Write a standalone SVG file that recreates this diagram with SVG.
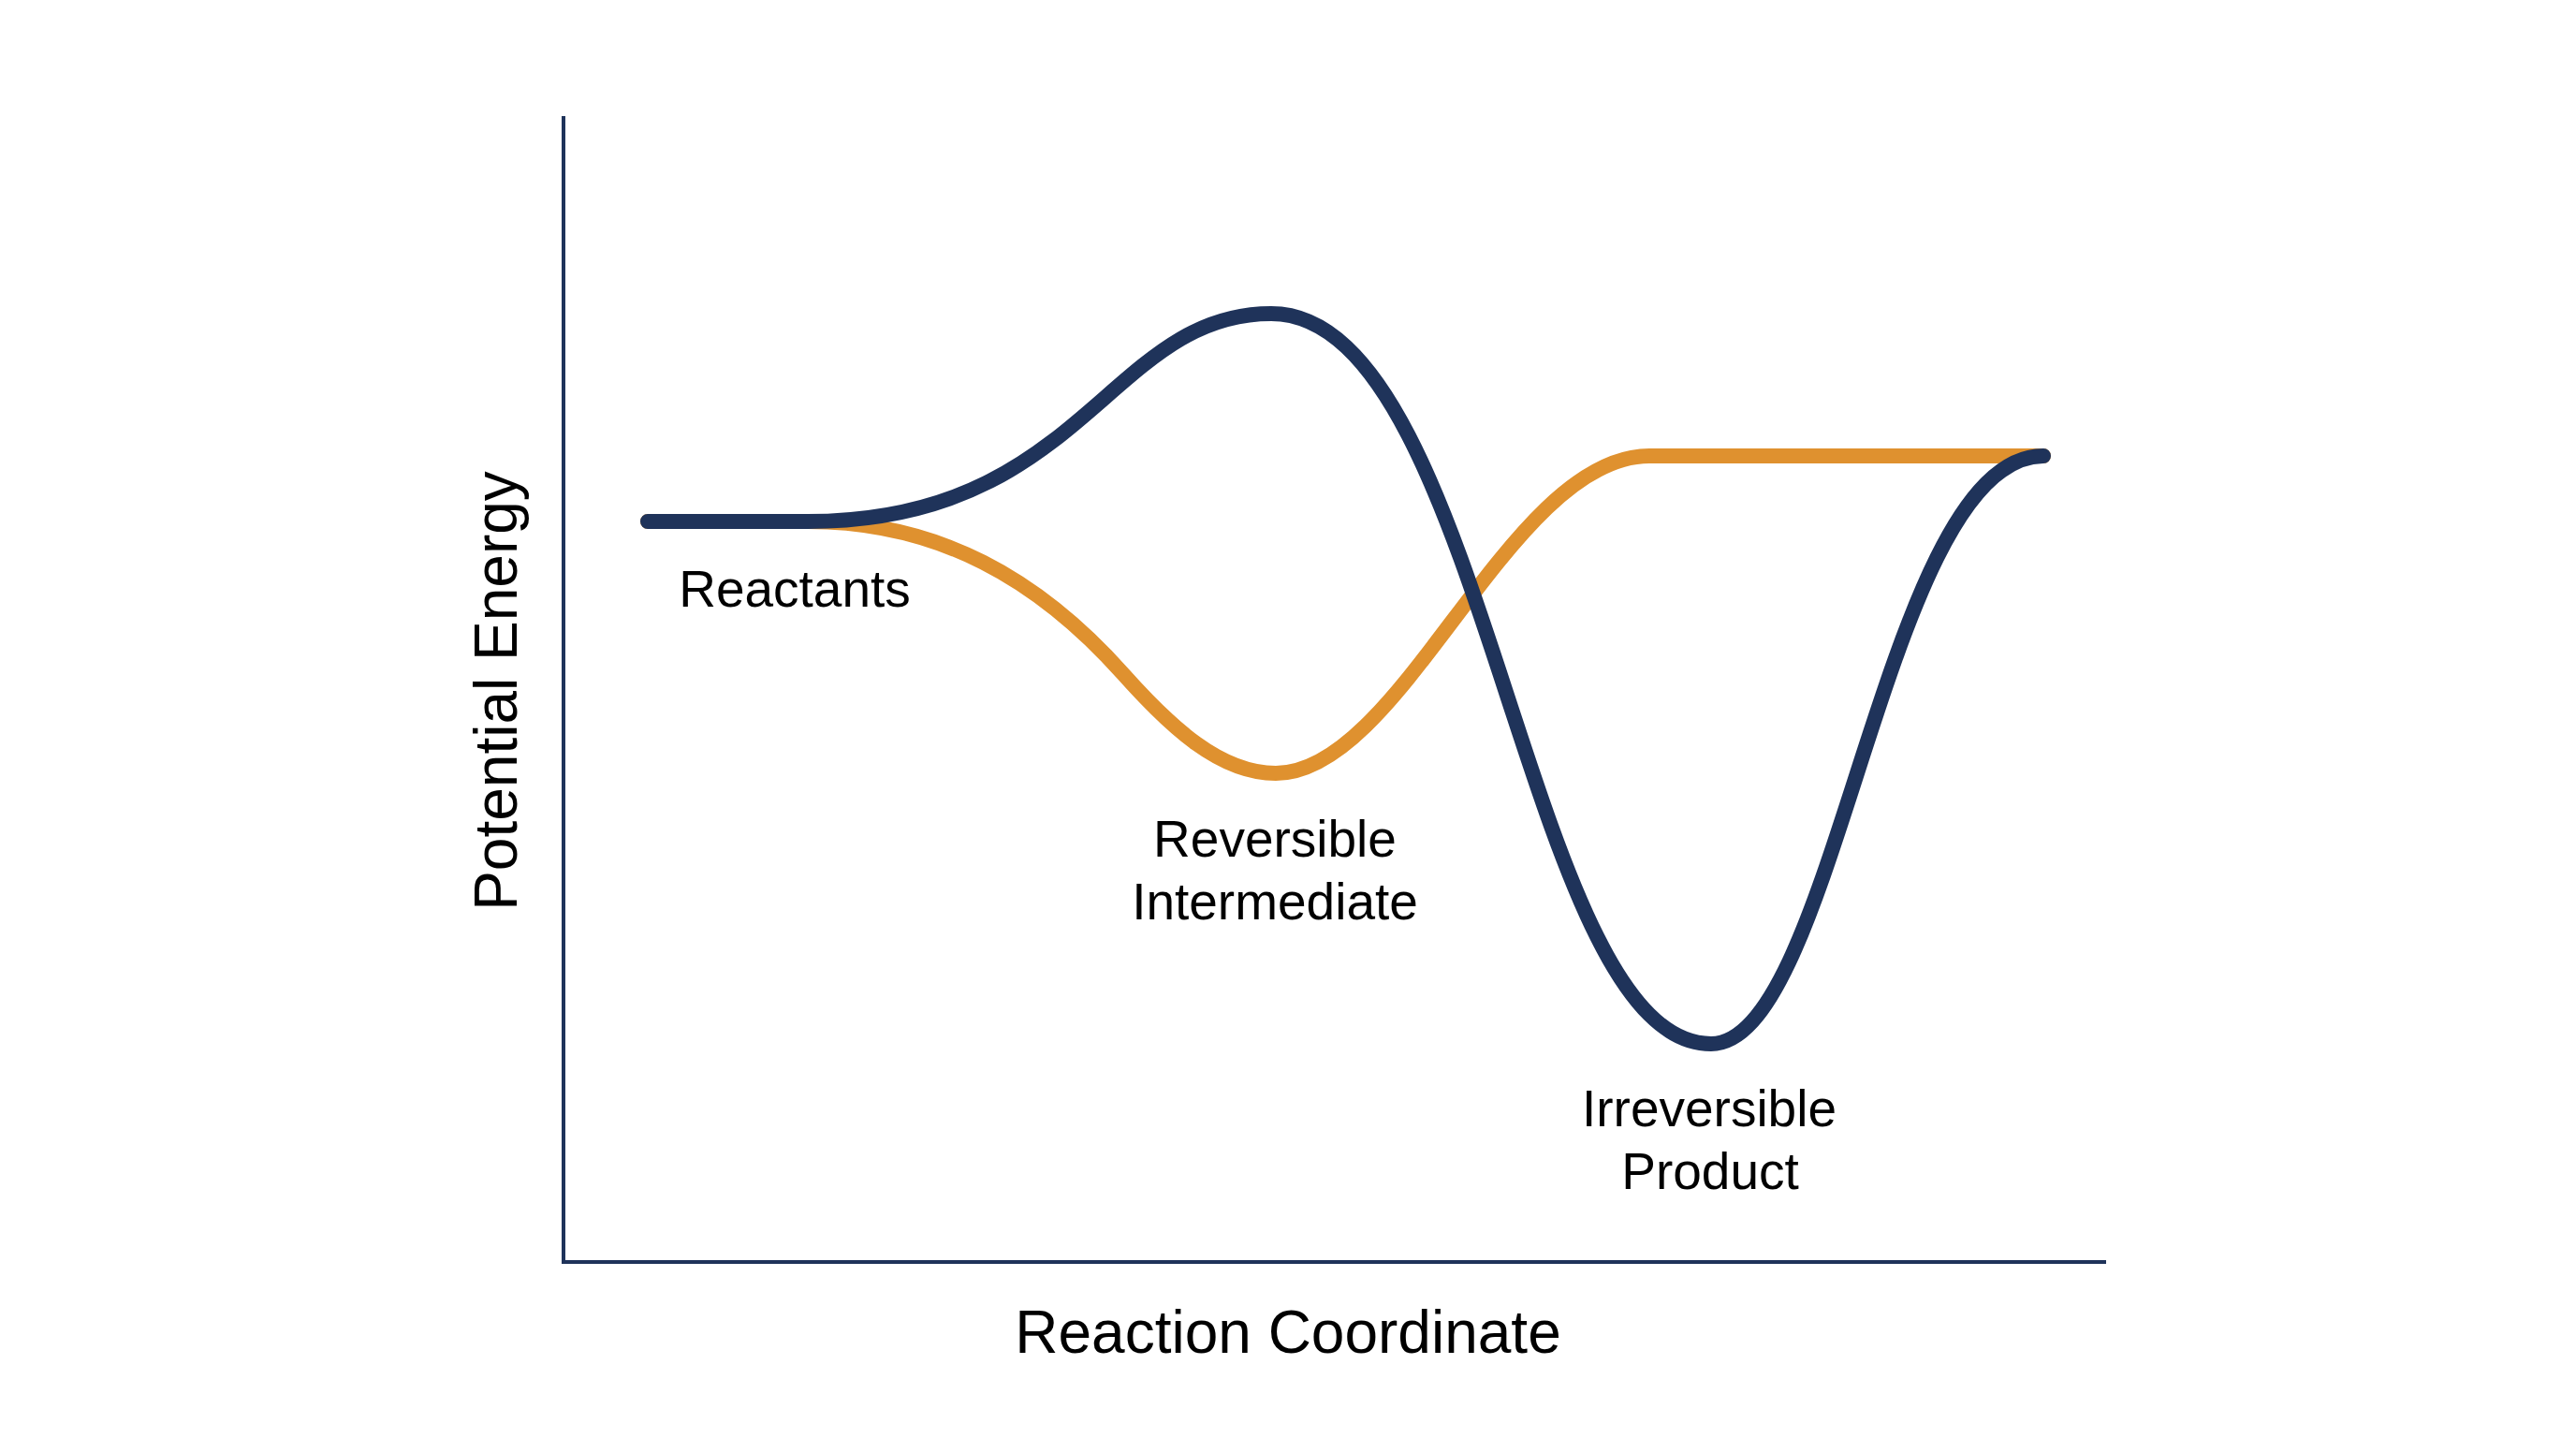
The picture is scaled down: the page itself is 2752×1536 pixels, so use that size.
<svg xmlns="http://www.w3.org/2000/svg" width="2752" height="1536" viewBox="0 0 2752 1536">
  <style>
    .axis { stroke: #1f335a; stroke-width: 4; fill: none; stroke-linecap: butt; }
    .curve { fill: none; stroke-width: 16; stroke-linecap: round; stroke-linejoin: round; }
    .blue { stroke: #1f335a; }
    .orange { stroke: #df912f; }
    .lbl { font-family: "Liberation Sans", Arial, sans-serif; fill: #000; text-anchor: middle; }
    .small { font-size: 55px; }
    .big { font-size: 64px; }
  </style>
  <rect width="2752" height="1536" fill="#ffffff"/>
  <g id="axes">
    <line class="axis" x1="602" y1="124" x2="602" y2="1350"/>
    <line class="axis" x1="600" y1="1348" x2="2250" y2="1348"/>
  </g>
  <g id="connectors">
    <path id="orange-path" class="curve orange" d="M692,557 L863,557 C1003,557 1110,619 1200,720 C1250,776 1303,826 1363,826 C1498,826 1612,487 1762,487 L2183,487"/>
    <path id="blue-path" class="curve blue" d="M692,557 L863,557 C1157,557 1185,335 1358,335 C1588,335 1628,1115 1828,1115 C1962,1115 2013,487 2183,487"/>
  </g>
  <g id="label-reactants">
    <text class="lbl small" x="849" y="648">Reactants</text>
  </g>
  <g id="label-intermediate">
    <text class="lbl small" x="1362" y="915">Reversible</text>
    <text class="lbl small" x="1362" y="982">Intermediate</text>
  </g>
  <g id="label-product">
    <text class="lbl small" x="1826" y="1203">Irreversible</text>
    <text class="lbl small" x="1827" y="1270">Product</text>
  </g>
  <g id="axis-labels">
    <text class="lbl big" x="1376" y="1445">Reaction Coordinate</text>
    <text class="lbl big" transform="translate(552,738) rotate(-90)" x="0" y="0">Potential Energy</text>
  </g>
</svg>
